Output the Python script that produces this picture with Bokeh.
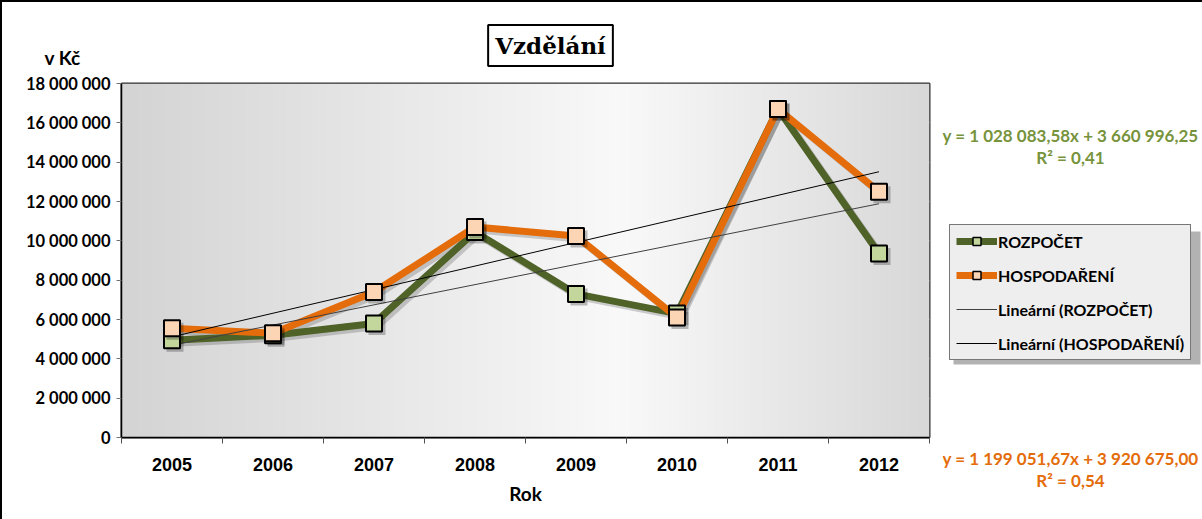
import numpy as np
from bokeh.plotting import figure
from bokeh.layouts import column, row
from bokeh.models import FixedTicker, Label, Legend, LegendItem, Range1d, BoxAnnotation
from bokeh.embed import file_html
from bokeh.resources import INLINE

# ---- data ----
years = ["2005", "2006", "2007", "2008", "2009", "2010", "2011", "2012"]
rozpocet = [4.95e6, 5.2e6, 5.8e6, 10.45e6, 7.3e6, 6.3e6, 16.7e6, 9.35e6]
hospodareni = [5.55e6, 5.3e6, 7.4e6, 10.7e6, 10.25e6, 6.1e6, 16.7e6, 12.5e6]
trend_rozpocet = (1028083.58, 3660996.25)      # slope, intercept (x = 1..8)
trend_hospodareni = (1199051.67, 3920675.00)
y_ticks = [0, 2e6, 4e6, 6e6, 8e6, 10e6, 12e6, 14e6, 16e6, 18e6]
y_tick_labels = ["0", "2 000 000", "4 000 000", "6 000 000", "8 000 000", "10 000 000",
                 "12 000 000", "14 000 000", "16 000 000", "18 000 000"]
eq_rozpocet = ["y = 1 028 083,58x + 3 660 996,25", "R² = 0,41"]
eq_hospodareni = ["y = 1 199 051,67x + 3 920 675,00", "R² = 0,54"]
title_text = "Vzdělání"
y_unit_text = "v Kč"
x_title = "Rok"

GREEN_LINE = "#4f6228"
GREEN_FILL = "#c3d69b"
GREEN_TEXT = "#77933c"
ORANGE_LINE = "#e46c0a"
ORANGE_FILL = "#fcd5b5"


def no_align(f):
    if "frame_align" in f.properties():
        f.frame_align = False
    return f


def blank(width, height):
    f = figure(width=width, height=height, output_backend="svg", toolbar_location=None,
               x_range=Range1d(0, width), y_range=Range1d(0, height),
               min_border=0, min_border_left=0, min_border_right=0,
               min_border_top=0, min_border_bottom=0)
    f.axis.visible = False
    f.grid.visible = False
    f.outline_line_color = None
    f.background_fill_color = "white"
    f.border_fill_color = "white"
    return no_align(f)


# ---------------- top strip: title and unit ----------------
top = blank(1200, 70)
tkw = dict(text_align="center", text_baseline="middle", text_font="DejaVu Serif",
           text_font_style="bold", text_font_size="23px", padding=7)
top.add_layout(Label(text=title_text, x=552, y=23, text_alpha=0,
                     background_fill_color="black", background_fill_alpha=0.3, **tkw))
top.add_layout(Label(text=title_text, x=548, y=27, text_color="black",
                     background_fill_color="white", border_line_color="black",
                     border_line_width=2, **tkw))
top.add_layout(Label(text=y_unit_text, x=60, y=15, text_align="center", text_baseline="middle",
                     text_font="Lato", text_font_style="bold", text_font_size="19px",
                     text_color="black"))

# ---------------- main chart ----------------
xs = list(range(1, len(years) + 1))
p = figure(width=940, height=447, output_backend="svg", toolbar_location=None,
           x_range=Range1d(0.5, len(years) + 0.5), y_range=Range1d(0, 18e6),
           min_border_left=119, min_border_right=13, min_border_top=11,
           min_border_bottom=82)
no_align(p)

n = 300
t = np.linspace(0, 1, n)
g = np.interp(t, [0, 0.62, 1], [212, 249, 216]).astype(np.uint8)
img = np.empty((1, n), dtype=np.uint32)
view = img.view(dtype=np.uint8).reshape((1, n, 4))
view[0, :, 0] = g
view[0, :, 1] = g
view[0, :, 2] = g
view[0, :, 3] = 255
p.image_rgba(image=[img], x=0.5, y=0, dw=len(years), dh=18e6)

p.outline_line_color = "#303030"
p.outline_line_width = 2
p.background_fill_color = "white"
p.border_fill_color = "white"

p.xgrid.grid_line_color = None
p.ygrid.ticker = FixedTicker(ticks=y_ticks)
p.ygrid.grid_line_color = "#b9cde5"
p.ygrid.grid_line_width = 1.5

p.yaxis.ticker = FixedTicker(ticks=y_ticks)
p.yaxis.major_label_overrides = {tk: lb for tk, lb in zip(y_ticks, y_tick_labels)}
p.yaxis.major_label_text_font = "Lato"
p.yaxis.major_label_text_font_style = "bold"
p.yaxis.major_label_text_font_size = "16.5px"
p.yaxis.major_label_text_color = "black"
p.yaxis.axis_line_color = "black"
p.yaxis.axis_line_width = 1.5
p.yaxis.major_tick_in = 0
p.yaxis.major_tick_out = 5
p.yaxis.major_tick_line_color = "#707070"
p.yaxis.minor_tick_line_color = None
p.yaxis.major_label_standoff = 6

p.xaxis.ticker = FixedTicker(ticks=xs, minor_ticks=[x - 0.5 for x in xs] + [len(xs) + 0.5])
p.xaxis.major_label_overrides = {x: y for x, y in zip(xs, years)}
p.xaxis.major_tick_line_color = None
p.xaxis.minor_tick_in = 0
p.xaxis.minor_tick_out = 6
p.xaxis.minor_tick_line_color = "#505050"
p.xaxis.axis_line_color = "black"
p.xaxis.axis_line_width = 1.5
p.xaxis.major_label_text_font = "Liberation Sans"
p.xaxis.major_label_text_font_style = "bold"
p.xaxis.major_label_text_font_size = "18px"
p.xaxis.major_label_text_color = "black"
p.xaxis.major_label_standoff = 14
p.xaxis.axis_label = x_title
p.xaxis.axis_label_text_font = "Lato"
p.xaxis.axis_label_text_font_style = "bold"
p.xaxis.axis_label_text_font_size = "19px"
p.xaxis.axis_label_text_color = "black"
p.xaxis.axis_label_standoff = 8

# shadows (offset a few pixels right/down)
dx = 3 * len(years) / 808.0
dy = -3 * 18e6 / 354.0
sx = [x + dx for x in xs]
p.line(sx, [v + dy for v in rozpocet], line_color="black", line_alpha=0.18, line_width=7)
p.line(sx, [v + dy for v in hospodareni], line_color="black", line_alpha=0.18, line_width=7)

p.line(xs, rozpocet, line_color=GREEN_LINE, line_width=7)
p.line(xs, hospodareni, line_color=ORANGE_LINE, line_width=7)

tr_x = [xs[0], xs[-1]]
p.line(tr_x, [trend_rozpocet[0] * x + trend_rozpocet[1] for x in tr_x],
       line_color="#404040", line_width=1)
p.line(tr_x, [trend_hospodareni[0] * x + trend_hospodareni[1] for x in tr_x],
       line_color="black", line_width=1)

p.scatter(sx, [v + dy for v in rozpocet], marker="square", size=17, fill_color="black",
          fill_alpha=0.25, line_color=None)
p.scatter(xs, rozpocet, marker="square", size=16, fill_color=GREEN_FILL,
          line_color="black", line_width=2)
p.scatter(sx, [v + dy for v in hospodareni], marker="square", size=17, fill_color="black",
          fill_alpha=0.25, line_color=None)
p.scatter(xs, hospodareni, marker="square", size=16, fill_color=ORANGE_FILL,
          line_color="black", line_width=2)

# ---------------- right strip: legend and trend equations ----------------
r = blank(260, 447)
# legend sample renderers (series data fall outside this strip's ranges, so only the
# legend swatches are visible)
lr_line = r.line(xs, rozpocet, line_color=GREEN_LINE, line_width=7)
lr_mk = r.scatter(xs, rozpocet, marker="square", size=11, fill_color=GREEN_FILL,
                  line_color="black", line_width=1.5)
lh_line = r.line(xs, hospodareni, line_color=ORANGE_LINE, line_width=7)
lh_mk = r.scatter(xs, hospodareni, marker="square", size=11, fill_color=ORANGE_FILL,
                  line_color="black", line_width=1.5)
lt_r = r.line(tr_x, [trend_rozpocet[0] * x + trend_rozpocet[1] for x in tr_x],
              line_color="#404040", line_width=1)
lt_h = r.line(tr_x, [trend_hospodareni[0] * x + trend_hospodareni[1] for x in tr_x],
              line_color="black", line_width=1)

r.add_layout(BoxAnnotation(left=11, right=258, bottom=155, top=288, fill_color="black",
                           fill_alpha=0.3, line_color=None))
legend = Legend(items=[
    LegendItem(label="ROZPOČET", renderers=[lr_line, lr_mk]),
    LegendItem(label="HOSPODAŘENÍ", renderers=[lh_line, lh_mk]),
    LegendItem(label="Lineární (ROZPOČET)", renderers=[lt_r]),
    LegendItem(label="Lineární (HOSPODAŘENÍ)", renderers=[lt_h]),
], location=(7, 159))
legend.label_text_font = "Lato"
legend.label_text_font_style = "bold"
legend.label_text_font_size = "16px"
legend.label_text_color = "black"
legend.glyph_width = 41
legend.glyph_height = 20
legend.label_height = 20
legend.label_standoff = 1
legend.spacing = 14
legend.padding = 6
legend.margin = 0
legend.border_line_color = "black"
legend.border_line_width = 1
legend.background_fill_color = "#eeeeee"
legend.background_fill_alpha = 1
r.add_layout(legend)

for i, line in enumerate(eq_rozpocet):
    r.add_layout(Label(text=line, x=128, y=384 - 22 * i, text_align="center",
                       text_baseline="middle", text_font="Lato", text_font_style="bold",
                       text_font_size="17px", text_color=GREEN_TEXT))
for i, line in enumerate(eq_hospodareni):
    r.add_layout(Label(text=line, x=128, y=61 - 22 * i, text_align="center",
                       text_baseline="middle", text_font="Lato", text_font_style="bold",
                       text_font_size="17px", text_color=ORANGE_LINE))

layout = column(top, row(p, r, spacing=0), spacing=0,
                styles={"border-left": "2px solid black", "border-top": "2px solid black"})

open("out.html", "w").write(file_html(layout, INLINE))
